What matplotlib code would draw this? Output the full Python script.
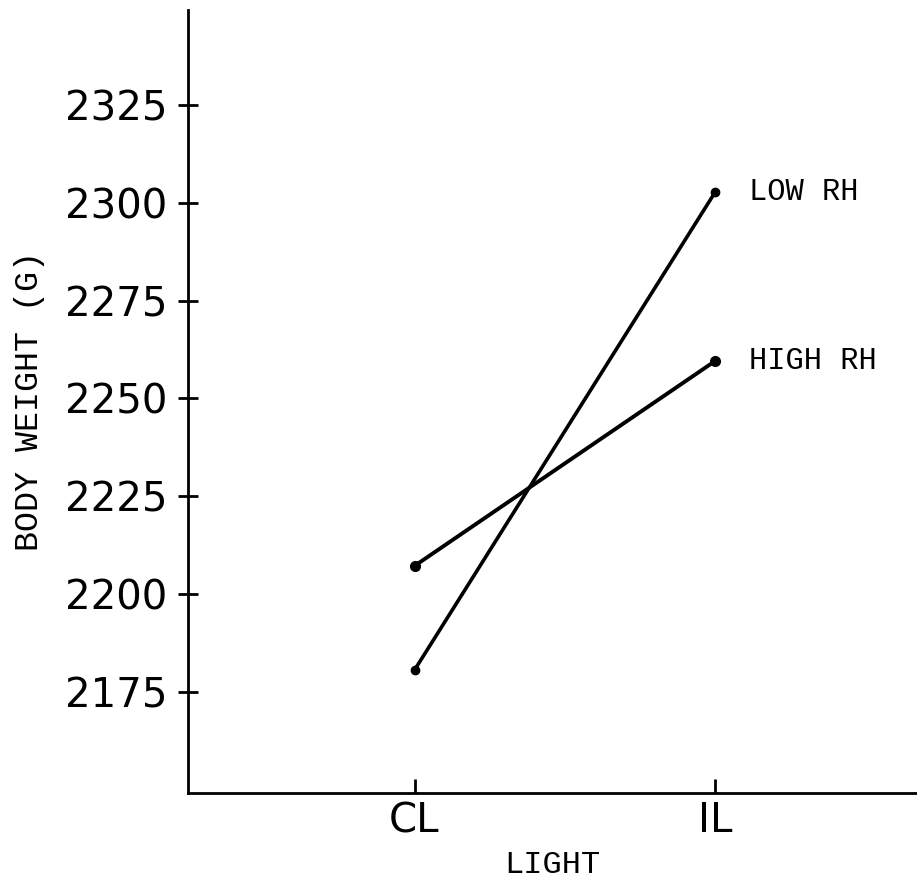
import matplotlib.pyplot as plt

labels = ['CL', 'IL']
x = [1, 2]
low_rh = [2180.6, 2302.8]
high_rh = [2207.2, 2259.6]
yticks = [2175, 2200, 2225, 2250, 2275, 2300, 2325]

fig = plt.figure(figsize=(9.17, 8.82), dpi=100)
ax = fig.add_axes([0.205, 0.101, 0.795, 0.888])

ax.plot(x, low_rh, color='black', lw=2.6, marker='o', markersize=6)
ax.plot(x, high_rh, color='black', lw=2.8, marker='o', markersize=7)

mono = 'Liberation Mono'
ax.text(2.11, low_rh[1], 'LOW RH', fontsize=22, family=mono, va='center')
ax.text(2.11, high_rh[1], 'HIGH RH', fontsize=22, family=mono, va='center')

ax.set_xlim(0.247, 2.67)
ax.set_ylim(2149.2, 2349.3)
ax.set_xticks(x)
ax.set_xticklabels(labels)
ax.set_yticks(yticks)

ax.spines['top'].set_visible(False)
ax.spines['right'].set_visible(False)
ax.spines['left'].set_linewidth(2)
ax.spines['bottom'].set_linewidth(2)

ax.tick_params(axis='y', direction='inout', length=14, width=2, labelsize=29, pad=8)
ax.tick_params(axis='x', direction='in', length=10, width=2, labelsize=29, pad=6)

ax.set_xlabel('LIGHT', fontsize=23, family=mono, labelpad=6)
ax.set_ylabel('BODY WEIGHT (G)', fontsize=24, family=mono, labelpad=14)

fig.savefig('out.png', dpi=100)
